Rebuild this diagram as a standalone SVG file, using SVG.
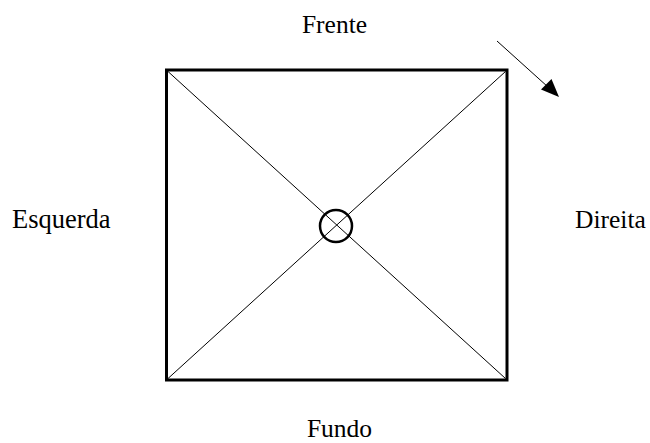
<svg xmlns="http://www.w3.org/2000/svg" width="650" height="443" viewBox="0 0 650 443">
<style>
text{font-family:"Liberation Serif","Times New Roman",serif;font-size:25.5px;fill:#000}
.thin{stroke:#000;stroke-width:1;fill:none}
</style>
<rect width="650" height="443" fill="#fff"/>
<g id="square">
<rect x="166.5" y="70" width="340.5" height="310" fill="none" stroke="#000" stroke-width="3"/>
</g>
<g id="connectors">
<line class="thin" x1="168" y1="71.5" x2="505.5" y2="378.5"/>
<line class="thin" x1="505.5" y1="71.5" x2="168" y2="378.5"/>
</g>
<g id="arrow">
<line class="thin" x1="497" y1="41" x2="548" y2="87"/>
<polygon points="559,97 541,89.5 551.5,79" fill="#000"/>
</g>
<g id="center">
<circle cx="336" cy="226" r="16" fill="none" stroke="#000" stroke-width="2.5"/>
</g>
<g id="labels">
<text x="334.5" y="33" text-anchor="middle">Frente</text>
<text x="12" y="228" style="font-size:26.5px">Esquerda</text>
<text x="575" y="228">Direita</text>
<text x="339.5" y="437" text-anchor="middle">Fundo</text>
</g>
</svg>
